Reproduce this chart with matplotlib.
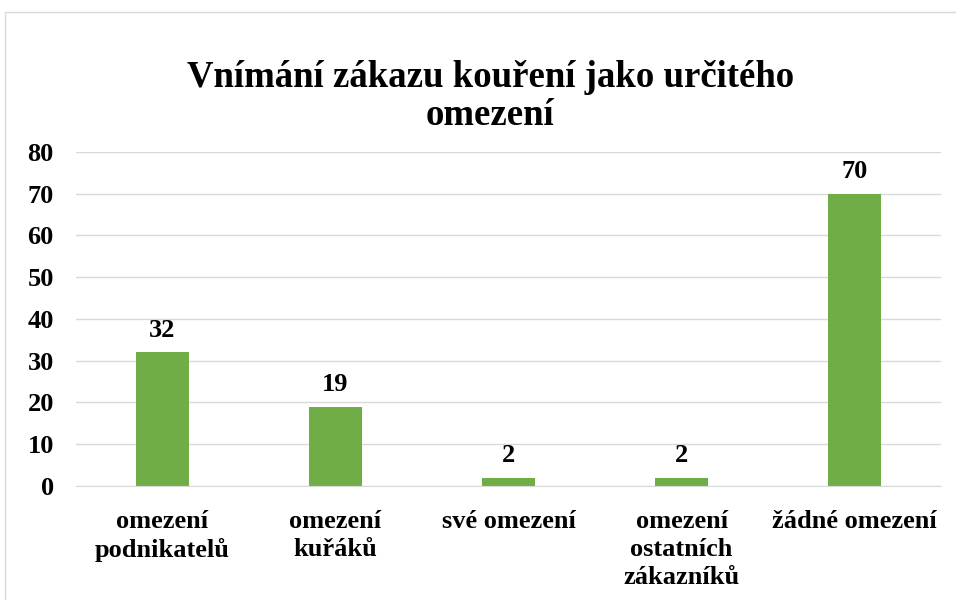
import matplotlib
matplotlib.use("Agg")
import matplotlib.pyplot as plt
from matplotlib.patches import Rectangle

categories = ["omezení\npodnikatelů", "omezení\nkuřáků", "své omezení",
              "omezení\nostatních\nzákazníků", "žádné omezení"]
values = [32, 19, 2, 2, 70]
yticks = [0, 10, 20, 30, 40, 50, 60, 70, 80]

plt.rcParams['font.family'] = ['Liberation Serif', 'DejaVu Serif']
plt.rcParams['font.weight'] = 'bold'

fig = plt.figure(figsize=(9.56, 6.0), dpi=100)
ax = fig.add_axes([0.0795, 0.19, 0.905, 0.5567])

x = range(len(categories))
bars = ax.bar(x, values, width=0.31, color="#70AD47", zorder=3)
for b, v in zip(bars, values):
    ax.text(b.get_x() + b.get_width() / 2, v + 2.6, str(v), ha="center", va="bottom",
            fontsize=19, fontweight="bold")

ax.set_xlim(-0.5, len(categories) - 0.5)
ax.set_ylim(0, 80)
ax.set_yticks(yticks)
ax.set_xticks(list(x))
ax.set_xticklabels(categories, fontsize=19, fontweight="bold", linespacing=1.3, va="top")
ax.tick_params(axis="y", labelsize=19, length=0, pad=16)
ax.tick_params(axis="x", length=0, pad=17)
ax.grid(axis="y", color="#D9D9D9", linewidth=1, zorder=0)
for s in ["top", "right", "left"]:
    ax.spines[s].set_visible(False)
ax.spines["bottom"].set_color("#D9D9D9")
ax.spines["bottom"].set_zorder(4)

fig.text(0.513, 0.839, "Vnímání zákazu kouření jako určitého\nomezení", ha="center", va="center",
         fontsize=26.5, fontweight="bold", linespacing=1.1)

fig.patches.append(Rectangle((5 / 956, -0.1), 2, 1.08 - 12 / 600 + 0.02, transform=fig.transFigure,
                             fill=False, edgecolor="#D9D9D9", linewidth=1))

fig.savefig("out.png", dpi=100)
